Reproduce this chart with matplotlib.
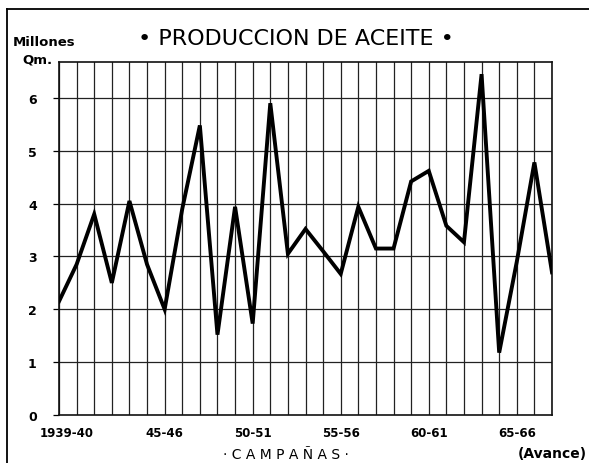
import matplotlib
matplotlib.use("Agg")
import matplotlib.pyplot as plt
from matplotlib.lines import Line2D
from matplotlib.transforms import ScaledTranslation

# Data
campaigns = [f"{1939+i}-{(40+i) % 100:02d}" for i in range(29)]
production = [2.15, 2.85, 3.80, 2.50, 4.05, 2.85, 2.00, 3.90, 5.48, 1.52,
              3.94, 1.73, 5.90, 3.05, 3.52, 3.10, 2.67, 3.94, 3.15, 3.15,
              4.42, 4.62, 3.58, 3.27, 6.45, 1.18, 2.90, 4.78, 2.70]
xtick_idx = [0, 6, 11, 16, 21, 26]
xtick_labels = ["1939-40", "45-46", "50-51", "55-56", "60-61", "65-66"]
yticks = [0, 1, 2, 3, 4, 5, 6]

fig = plt.figure(figsize=(5.89, 4.64), dpi=100)
ax = fig.add_axes([59/589, 48/464, (552-59)/589, (416-63)/464])

x = list(range(len(production)))
ax.set_xlim(0, len(production) - 1)
ax.set_ylim(0, 6.68)

# grid
for xi in x:
    ax.axvline(xi, color="#222222", lw=0.9, zorder=1)
for yv in yticks[1:]:
    ax.axhline(yv, color="#222222", lw=0.9, zorder=1)

ax.plot(x, production, color="black", lw=2.8, solid_joinstyle="miter", zorder=3)

for s in ax.spines.values():
    s.set_linewidth(1.2)
    s.set_color("#111111")

ax.set_yticks(yticks)
ax.set_yticklabels([str(v) for v in yticks], fontsize=9, fontweight="bold")
ax.tick_params(axis="y", length=4, width=0.9, pad=12)
ax.set_xticks(xtick_idx)
ax.set_xticklabels([])
ax.tick_params(axis="x", length=0)

for i, (xi, lab) in enumerate(zip(xtick_idx, xtick_labels)):
    tr = ax.get_xaxis_transform()
    if i == 0:
        tr = tr + ScaledTranslation(8/100, 0, fig.dpi_scale_trans)
    ax.text(xi, -0.032, lab, transform=tr, ha="center", va="top",
            fontsize=8.5, fontweight="bold")

fig.text(296/589, 1 - 39/464, "• PRODUCCION DE ACEITE •", ha="center", va="center",
         fontsize=16)
fig.text(13/589, 1 - 43/464, "Millones", ha="left", va="center", fontsize=9.5,
         fontweight="bold")
fig.text(22/589, 1 - 60/464, "Qm.", ha="left", va="center", fontsize=9.5,
         fontweight="bold")
fig.text(286/589, 1 - 455/464, "· C A M P A Ñ A S ·", ha="center", va="center",
         fontsize=10)
fig.text(587/589, 1 - 454/464, "(Avance)", ha="right", va="center", fontsize=10,
         fontweight="bold")

# outer frame
fig.add_artist(Line2D([7/589, 7/589], [0, 1 - 10/464], transform=fig.transFigure,
                      color="black", lw=1.3))
fig.add_artist(Line2D([7/589, 1], [1 - 10/464, 1 - 10/464], transform=fig.transFigure,
                      color="black", lw=1.3))

fig.savefig("out.png", dpi=100)
